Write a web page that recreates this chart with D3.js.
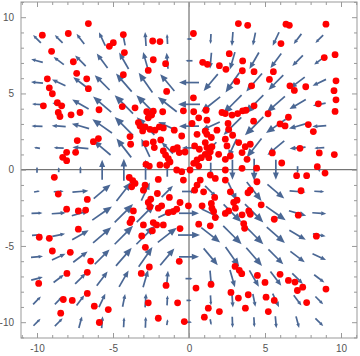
<!DOCTYPE html>
<html>
<head>
<meta charset="utf-8">
<script src="https://cdn.jsdelivr.net/npm/d3@7"></script>
<style>
	body { margin: 0; background: #fff; }
	svg { display: block; font-family: "Liberation Sans", Arial, sans-serif; }
</style>
</head>
<body>
<svg id="chart" width="360" height="356"></svg>
<script>
// sample positions of the vector field along each axis
const gridPos = [-10, -8.571, -7.143, -5.714, -4.286, -2.857, -1.429, 0, 1.429, 2.857, 4.286, 5.714, 7.143, 8.571];

// size of the horizontal component:
// rows by |y| (0, 1.43, ... 10), columns by |x| (0, 1.43, ... 10).
// The field mirrors between quadrants; the vertical component at (|x|,|y|)
// is the horizontal one at (|y|,|x|).
const fieldH = [
	[0, 0, 0, 0, 0, 0, 0, 0],
	[0.54, 0.435, 0.325, 0.568, 0.648, 0.613, 0.384, 0.227],
	[0.769, 0.697, 0.68, 0.707, 0.756, 0.665, 0.537, 0.423],
	[0.846, 0.727, 0.707, 0.707, 0.697, 0.633, 0.491, 0.384],
	[0.769, 0.544, 0.53, 0.606, 0.571, 0.553, 0.519, 0.46],
	[0.269, 0.054, 0.191, 0.365, 0.417, 0.408, 0.394, 0.446],
	[0.192, 0.02, 0.038, 0.099, 0.244, 0.296, 0.299, 0.299],
	[0.231, 0.04, 0.015, 0.02, 0.04, 0.12, 0.299, 0.272]
];

const ticksMajor = [-10, -5, 0, 5, 10];

// red sample points
const ptX = [
	-9.65, -7.94, -6.62, -9.04, -5.24, -4.98, -4.32, -4.25, -2.39, -1.91, -7.61, -2.35, -1.54, -9.32, -7.39, -6.73, -6.62, -9.19, -8.99, -2.68,
	-4.32, -1.47, -9.58, -8.66, -8.38, -5.92, -4.39, -3.55, -8.6, -8.49, -7.76, -7.17, -7.35, -8.05, -7.46, -8.31, -8.05, -6.29, -5.96, -8.86,
	3.25, 3.86, 6.38, 6.6, 9.01, 0.29, 6.05, 2.65, 9.61, 0.9, 1.21, 2.0, 2.43, 3.53, 3.51, 4.28, 5.55, 8.9, 3.14, 5.29,
	9.67, 4.12, 6.64, 6.93, 7.68, 9.54, 9.67, 0.29, 8.51, 9.61, 4.28, 5.2, 6.54, 5.99, 6.32, 7.85, 8.18, 8.57, 9.56, 7.3,
	5.48, 6.1, 8.44, 8.95, 7.08, 7.74,
	-8.6, -6.69, -8.05, -7.28, -6.8, -9.85, -9.19, -7.28, -8.99, -7.81, -6.47, -9.89, -8.03, -6.69, -6.69, -8.27, -7.68, -8.44, -6.23, -5.31,
	-5.9, -2.68, -2.02, -0.75, -1.51, -3.14, -2.61, -0.64, -2.87, -2.52, -2.08, -1.29, -0.59,
	7.37, 7.19, 5.61, 8.38, 0.46, 1.45, 3.03, 3.31, 3.47, 4.5, 5.99, 5.0, 6.54, 6.97, 7.48, 7.13, 9.01, 7.74, 2.76, 3.25,
	3.9, 5.07, 5.61, 3.71, 5.22, 1.27, 2.0, 1.01, -0.31,
	-2.78, -2.61, -2.35, -2.46, -2.68, -1.73, -0.37, -3.33, -3.22, -2.89, -3.05, -2.57, -2.24, -1.95, -1.69, -0.97,
	0.31, 0.64, 1.12, 1.18, 2.17, 2.39, 2.83, 3.2, 3.53, 3.75, 2.57, 4.25, 1.07, 1.84, 2.61, 0.2,
	-3.88, -3.84, -2.83, -2.35, -1.86, -2.28, -1.69, -1.54, -1.36, -1.03, -0.77, -0.64, -1.25, -1.47, -1.91, -2.83, -2.61, -0.26, -0.48,
	0.53, 1.18, 1.47, 1.07, 0.37, 0.68, 1.18, 1.51, 2.5, 2.39, 2.87, 3.27, 3.7, 4.03, 0.53, 0.31, 0.81, 1.07, 1.4, 1.3,
	1.95, 2.39, 2.72, 3.49, 3.82, 0.64,
	-3.93, -3.7, -3.55, -3.77, -2.89, -3.0, -2.02, -0.81, -0.48, -0.37, 0.07,
	0.74, 0.53, 0.37, 1.4, 1.73, 2.39, 2.39, 3.49, 4.47, 0.96, 1.69, 2.72, 3.16, 3.88, 4.03, 4.45,
	-2.68, -2.57, -2.02, -1.8, -1.36, -1.03, -0.81, -0.59, -0.04, -3.66, -3.77, -3.88, -3.0, -2.35, -2.13, -1.69, -2.41, -3.11,
	0.86, 1.47, 1.51, 1.62, 1.73, 2.39, 2.61, 2.94, 3.05, 3.49, 3.93, 4.03, 4.75, 0.64, 1.4, 3.6, 3.66
];
const ptY = [
	8.82, 8.93, 9.58, 7.76, 8.09, 8.33, 8.86, 7.68, 8.44, 8.4, 7.08, 7.21, 6.95, 5.96, 6.32, 5.96, 5.31, 5.37, 4.98, 6.51,
	6.23, 5.13, 4.19, 4.39, 4.19, 3.93, 4.14, 4.06, 3.75, 3.49, 3.6, 3.75, 1.91, 1.14, 1.14, 0.81, 0.59, 1.84, 2.04, -0.5,
	9.58, 9.47, 9.54, 9.47, 9.54, 8.93, 8.27, 7.61, 7.54, 7.04, 6.91, 6.82, 6.58, 7.13, 6.49, 6.43, 6.43, 7.35, 5.79, 5.92,
	5.83, 5.5, 5.5, 5.2, 5.44, 5.18, 4.58, 4.71, 4.32, 3.82, 4.19, 3.67, 3.44, 3.0, 2.87, 2.96, 2.5, 1.1, 0.99, 1.4,
	1.1, 0.44, 0.2, -0.22, -0.39, -0.39,
	-1.6, -1.95, -2.59, -2.7, -2.65, -4.43, -4.5, -3.9, -5.33, -5.42, -5.99, -7.46, -6.8, -6.73, -8.11, -8.51, -8.57, -9.41, -8.95, -9.17,
	-10.02, -8.73, -9.74, -8.73, -7.59, -6.8, -6.38, -6.01, -5.09, -1.93, -1.56, -1.82, -3.86,
	-1.38, -2.98, -3.25, -4.36, -7.76, -7.52, -6.34, -6.6, -6.82, -6.93, -6.86, -7.39, -7.26, -7.37, -7.7, -7.92, -7.83, -8.71, -8.05, -8.42,
	-8.2, -8.36, -8.57, -9.08, -9.3, -9.08, -9.3, -9.67, -9.96,
	3.8, 3.62, 3.84, 3.58, 3.4, 3.8, 3.86, 3.09, 2.87, 2.81, 2.54, 2.65, 2.59, 2.81, 2.74, 2.59,
	3.8, 3.4, 3.9, 3.25, 3.75, 3.68, 3.58, 3.68, 3.86, 3.9, 3.03, 3.18, 2.52, 2.59, 2.65, 3.03,
	2.17, 1.67, 1.71, 1.82, 1.95, 1.45, 1.23, 0.96, 0.72, 1.34, 1.45, 1.12, 0.51, 0.29, 0.31, 0.35, 0.24, 1.16, 2.21,
	2.32, 2.32, 2.11, 1.78, 1.56, 1.34, 1.45, 1.51, 1.56, 2.0, 2.26, 1.78, 1.51, 1.67, 0.64, 0.42, 0.79, 1.01, 1.18, 0.79,
	1.01, 0.68, 0.9, 1.12, 0.68, 0.24,
	-0.51, -0.72, -0.9, -1.12, -1.01, -1.34, -0.64, -0.02, -0.13, -0.68, -0.02,
	-0.68, -1.01, -1.34, -0.35, -0.57, -0.68, -0.02, 0.09, -0.79, -1.45, -1.82, -1.45, -2.0, -1.51, -1.34, 0.1,
	-2.15, -2.43, -2.52, -2.37, -2.81, -2.74, -2.59, -2.15, -2.37, -2.7, -3.25, -3.47, -3.62, -3.47, -3.62, -3.62, -4.01, -4.34,
	-2.37, -2.21, -2.52, -2.74, -3.14, -2.87, -2.7, -2.15, -2.52, -2.96, -2.7, -2.92, -2.3, -3.57, -3.68, -3.53, -3.84
];

const svg = d3.select("#chart");
const frame = { left: 21, right: 357, top: 2, bottom: 338 };

let x = d3.scaleLinear().domain([-10, 10]).range([37, 341]);
let y = d3.scaleLinear().domain([-10, 10]).range([322.2, 17.2]);

// arrow length on screen from the field magnitude
let lenScale = d3.scaleLinear().domain([0, 1]).range([0, 26]);

svg.append("defs").append("clipPath").attr("id", "clip")
	.append("rect")
	.attr("x", frame.left).attr("y", frame.top)
	.attr("width", frame.right - frame.left)
	.attr("height", frame.bottom - frame.top);

let plotG = svg.append("g").attr("clip-path", "url(#clip)");

// axes through the origin
plotG.append("line")
	.attr("x1", frame.left).attr("x2", frame.right)
	.attr("y1", y(0)).attr("y2", y(0))
	.attr("stroke", "#555").attr("stroke-width", 1);
plotG.append("line")
	.attr("x1", x(0)).attr("x2", x(0))
	.attr("y1", frame.top).attr("y2", frame.bottom)
	.attr("stroke", "#555").attr("stroke-width", 1);

// vector field
let arrows = [];
gridPos.forEach((gy, j) => {
	gridPos.forEach((gx, i) => {
		let ai = Math.abs(i - 7), bj = Math.abs(j - 7);
		arrows.push({
			x: gx,
			y: gy,
			u: -Math.sign(gy) * fieldH[bj][ai],
			v: -Math.sign(gx) * fieldH[ai][bj],
		});
	});
});

let arrowG = plotG.append("g");
arrows.forEach((d) => {
	let m = Math.hypot(d.u, d.v);
	if (m === 0) return;
	let L = lenScale(m);
	let ux = d.u / m, uy = -d.v / m;  // screen direction
	let cx = x(d.x), cy = y(d.y);
	let tx = cx - ux * L / 2, ty = cy - uy * L / 2;
	let hx = cx + ux * L / 2, hy = cy + uy * L / 2;
	let headL = L * 0.36, headW = L * 0.15;
	let bx = hx - ux * headL, by = hy - uy * headL;
	arrowG.append("line")
		.attr("x1", tx).attr("y1", ty)
		.attr("x2", bx + ux * 0.5).attr("y2", by + uy * 0.5)
		.attr("stroke", "#4a6794")
		.attr("stroke-width", 1.7);
	arrowG.append("path")
		.attr("d", `M${hx},${hy}L${bx - uy * headW},${by + ux * headW}L${bx + uy * headW},${by - ux * headW}Z`)
		.attr("fill", "#4a6794");
});

// points
plotG.append("g")
	.selectAll("circle")
	.data(ptX.map((v, i) => [v, ptY[i]]))
	.join("circle")
	.attr("cx", (d) => x(d[0]))
	.attr("cy", (d) => y(d[1]))
	.attr("r", 3.4)
	.attr("fill", "#ff0000");

// frame with ticks
let minor = d3.range(-11, 12).filter((v) => v % 5 !== 0);

function frameAxis(axisFn, scale, transform, labels) {
	let g = svg.append("g").attr("transform", transform);
	g.call(axisFn(scale).tickValues(ticksMajor).tickSize(-5).tickPadding(labels ? 7 : 0)
		.tickFormat(labels ? (d) => String(d).replace("\u2212", "-") : ""));
	g.select(".domain").remove();
	g.selectAll(".tick line").attr("stroke", "#999");
	g.selectAll(".tick text").attr("fill", "#555").style("font-size", "10px");
	let gm = svg.append("g").attr("transform", transform);
	gm.call(axisFn(scale).tickValues(minor).tickSize(-3).tickFormat(""));
	gm.select(".domain").remove();
	gm.selectAll(".tick line").attr("stroke", "#999");
}

frameAxis(d3.axisBottom, x, `translate(0,${frame.bottom})`, true);
frameAxis(d3.axisTop, x, `translate(0,${frame.top})`, false);
frameAxis(d3.axisLeft, y, `translate(${frame.left},0)`, true);
frameAxis(d3.axisRight, y, `translate(${frame.right},0)`, false);

svg.append("rect")
	.attr("x", frame.left).attr("y", frame.top)
	.attr("width", frame.right - frame.left)
	.attr("height", frame.bottom - frame.top)
	.attr("fill", "none")
	.attr("stroke", "#999")
	.attr("stroke-width", 1);
</script>
</body>
</html>
